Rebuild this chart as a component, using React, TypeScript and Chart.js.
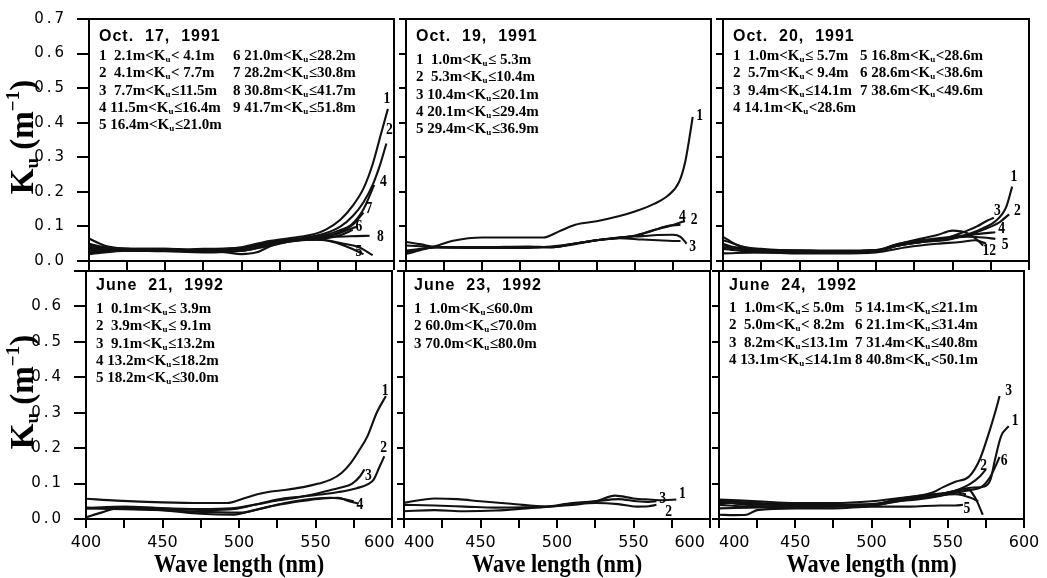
import React, { useEffect, useRef } from 'react';
import { Chart, registerables } from 'chart.js';

Chart.register(...registerables);

const PAGE_W = 1047;
const PAGE_H = 578;

// ---------- Oct. 17, 1991 ----------
const oct17Wl1 = [400, 410, 425, 450, 475, 500, 515, 530, 545, 555, 565, 573, 580, 586, 591, 596];
const oct17Ku1 = [0.05, 0.04, 0.035, 0.035, 0.033, 0.04, 0.055, 0.065, 0.075, 0.09, 0.12, 0.16, 0.21, 0.28, 0.36, 0.44];
const oct17Wl2 = [400, 410, 425, 450, 475, 500, 515, 530, 545, 555, 565, 573, 580, 586, 591, 595];
const oct17Ku2 = [0.045, 0.04, 0.035, 0.033, 0.03, 0.035, 0.05, 0.06, 0.07, 0.08, 0.1, 0.13, 0.17, 0.22, 0.28, 0.34];
const oct17Wl3 = [400, 425, 450, 475, 500, 515, 530, 545, 560, 570, 576];
const oct17Ku3 = [0.04, 0.033, 0.03, 0.032, 0.03, 0.045, 0.055, 0.065, 0.075, 0.09, 0.1];
const oct17Wl4 = [400, 425, 450, 475, 500, 515, 530, 545, 555, 565, 572, 580, 587];
const oct17Ku4 = [0.035, 0.03, 0.032, 0.03, 0.035, 0.05, 0.06, 0.065, 0.075, 0.09, 0.105, 0.15, 0.22];
const oct17Wl5 = [400, 410, 425, 450, 475, 490, 500, 510, 520, 535, 550, 560, 570, 580];
const oct17Ku5 = [0.065, 0.045, 0.035, 0.03, 0.03, 0.025, 0.02, 0.025, 0.045, 0.06, 0.062, 0.055, 0.04, 0.02];
const oct17Wl6 = [400, 425, 450, 475, 500, 520, 540, 555, 565, 573];
const oct17Ku6 = [0.03, 0.035, 0.035, 0.03, 0.03, 0.05, 0.06, 0.065, 0.075, 0.09];
const oct17Wl7 = [400, 425, 450, 475, 500, 520, 540, 555, 565, 573, 580];
const oct17Ku7 = [0.04, 0.03, 0.03, 0.035, 0.038, 0.055, 0.062, 0.07, 0.085, 0.105, 0.14];
const oct17Wl8 = [400, 425, 450, 475, 500, 520, 540, 560, 575, 584];
const oct17Ku8 = [0.025, 0.03, 0.03, 0.028, 0.035, 0.055, 0.065, 0.07, 0.072, 0.073];
const oct17Wl9 = [400, 425, 450, 475, 500, 520, 540, 555, 567, 577, 586];
const oct17Ku9 = [0.02, 0.03, 0.028, 0.025, 0.03, 0.045, 0.062, 0.06, 0.05, 0.04, 0.017];
const oct17Legend = [
  '1  2.1m<K_u< 4.1m', '2  4.1m<K_u< 7.7m', '3  7.7m<K_u≤11.5m', '4 11.5m<K_u≤16.4m', '5 16.4m<K_u≤21.0m',
  '6 21.0m<K_u≤28.2m', '7 28.2m<K_u≤30.8m', '8 30.8m<K_u≤41.7m', '9 41.7m<K_u≤51.8m',
];
const oct17LabelText = ['1', '2', '4', '7', '6', '8', '5'];
const oct17LabelWl = [595.4, 597, 593, 583.6, 577, 591, 577];
const oct17LabelKu = [0.469, 0.378, 0.229, 0.152, 0.099, 0.071, 0.025];

// ---------- Oct. 19, 1991 ----------
const oct19Wl1 = [400, 410, 417, 430, 450, 470, 490, 500, 511, 525, 540, 550, 563, 572, 579, 583, 586, 588];
const oct19Ku1 = [0.055, 0.048, 0.042, 0.058, 0.068, 0.068, 0.068, 0.085, 0.105, 0.115, 0.13, 0.143, 0.166, 0.19, 0.228, 0.285, 0.36, 0.417];
const oct19Wl2 = [400, 410, 420, 450, 480, 495, 510, 525, 540, 550, 563, 572, 583];
const oct19Ku2 = [0.03, 0.035, 0.04, 0.04, 0.04, 0.04, 0.05, 0.06, 0.067, 0.073, 0.09, 0.1, 0.116];
const oct19Wl3 = [400, 420, 450, 480, 495, 510, 525, 540, 555, 565, 575, 580, 584];
const oct19Ku3 = [0.02, 0.04, 0.04, 0.042, 0.04, 0.048, 0.06, 0.068, 0.072, 0.075, 0.076, 0.07, 0.05];
const oct19Wl4 = [400, 420, 450, 480, 495, 510, 525, 540, 550, 560, 570, 580];
const oct19Ku4 = [0.025, 0.04, 0.038, 0.038, 0.042, 0.05, 0.06, 0.068, 0.073, 0.085, 0.1, 0.105];
const oct19Wl5 = [400, 420, 450, 480, 495, 510, 525, 540, 555, 565, 575, 580];
const oct19Ku5 = [0.045, 0.04, 0.038, 0.04, 0.04, 0.05, 0.06, 0.066, 0.062, 0.06, 0.058, 0.058];
const oct19Legend = ['1  1.0m<K_u≤ 5.3m', '2  5.3m<K_u≤10.4m', '3 10.4m<K_u≤20.1m', '4 20.1m<K_u≤29.4m', '5 29.4m<K_u≤36.9m'];
const oct19LabelText = ['1', '4', '2', '3'];
const oct19LabelWl = [592.6, 581.2, 589, 588];
const oct19LabelKu = [0.42, 0.127, 0.12, 0.04];

// ---------- Oct. 20, 1991 ----------
const oct20Wl1 = [400, 410, 425, 450, 475, 500, 515, 530, 545, 555, 562, 570, 578, 585, 589];
const oct20Ku1 = [0.05, 0.035, 0.03, 0.028, 0.028, 0.03, 0.045, 0.055, 0.06, 0.07, 0.08, 0.095, 0.115, 0.155, 0.215];
const oct20Wl2 = [400, 425, 450, 475, 500, 515, 530, 545, 560, 570, 580, 587];
const oct20Ku2 = [0.04, 0.03, 0.03, 0.028, 0.03, 0.045, 0.055, 0.062, 0.075, 0.09, 0.11, 0.135];
const oct20Wl3 = [400, 425, 450, 475, 500, 515, 530, 545, 558, 566, 572, 577];
const oct20Ku3 = [0.035, 0.025, 0.025, 0.027, 0.03, 0.05, 0.06, 0.065, 0.085, 0.1, 0.115, 0.125];
const oct20Wl4 = [400, 410, 425, 450, 475, 500, 515, 530, 545, 560, 570, 578];
const oct20Ku4 = [0.07, 0.045, 0.035, 0.03, 0.03, 0.032, 0.05, 0.06, 0.068, 0.075, 0.08, 0.083];
const oct20Wl5 = [400, 425, 450, 475, 500, 515, 530, 545, 560, 570, 578];
const oct20Ku5 = [0.045, 0.03, 0.028, 0.028, 0.03, 0.045, 0.055, 0.065, 0.07, 0.068, 0.064];
const oct20Wl6 = [400, 425, 450, 475, 500, 520, 540, 550, 560, 565, 570];
const oct20Ku6 = [0.06, 0.03, 0.03, 0.028, 0.03, 0.055, 0.075, 0.088, 0.08, 0.065, 0.045];
const oct20Wl7 = [400, 425, 450, 475, 500, 520, 540, 555, 565, 572];
const oct20Ku7 = [0.022, 0.025, 0.022, 0.022, 0.025, 0.04, 0.05, 0.055, 0.06, 0.05];
const oct20Legend = [
  '1  1.0m<K_u≤ 5.7m', '2  5.7m<K_u< 9.4m', '3  9.4m<K_u≤14.1m', '4 14.1m<K_u<28.6m',
  '5 16.8m<K_u<28.6m', '6 28.6m<K_u<38.6m', '7 38.6m<K_u<49.6m',
];
const oct20LabelText = ['1', '3', '2', '4', '5', '12'];
const oct20LabelWl = [590.2, 579.4, 592.4, 582.2, 584.4, 574];
const oct20LabelKu = [0.243, 0.144, 0.144, 0.092, 0.047, 0.029];

// ---------- June 21, 1992 ----------
const jun21Wl1 = [400, 420, 450, 475, 492, 503, 512, 520, 530, 542, 552, 560, 567, 573, 578, 584, 590, 596];
const jun21Ku1 = [0.057, 0.052, 0.047, 0.045, 0.045, 0.058, 0.07, 0.077, 0.082, 0.09, 0.1, 0.111, 0.13, 0.158, 0.19, 0.234, 0.3, 0.347];
const jun21Wl2 = [400, 410, 420, 440, 460, 480, 497, 510, 525, 540, 555, 565, 577, 585, 588, 592, 595];
const jun21Ku2 = [0.005, 0.018, 0.03, 0.032, 0.028, 0.025, 0.028, 0.04, 0.055, 0.063, 0.07, 0.076, 0.087, 0.1, 0.111, 0.149, 0.177];
const jun21Wl3 = [400, 425, 450, 475, 495, 510, 525, 540, 551, 560, 568, 574, 579, 582];
const jun21Ku3 = [0.03, 0.035, 0.03, 0.028, 0.03, 0.04, 0.052, 0.062, 0.072, 0.082, 0.09, 0.1, 0.12, 0.14];
const jun21Wl4 = [400, 425, 450, 475, 500, 520, 540, 555, 565, 572, 578];
const jun21Ku4 = [0.03, 0.028, 0.025, 0.02, 0.018, 0.035, 0.05, 0.058, 0.06, 0.05, 0.044];
const jun21Wl5 = [400, 425, 450, 475, 495, 510, 530, 550, 560, 570, 575];
const jun21Ku5 = [0.032, 0.03, 0.025, 0.015, 0.012, 0.025, 0.045, 0.058, 0.06, 0.055, 0.05];
const jun21Legend = ['1  0.1m<K_u≤ 3.9m', '2  3.9m<K_u≤ 9.1m', '3  9.1m<K_u≤13.2m', '4 13.2m<K_u≤18.2m', '5 18.2m<K_u≤30.0m'];
const jun21LabelText = ['1', '2', '3', '4'];
const jun21LabelWl = [595.6, 594.5, 584.5, 579];
const jun21LabelKu = [0.362, 0.2, 0.122, 0.04];

// ---------- June 23, 1992 ----------
const jun23Wl1 = [400, 420, 435, 450, 470, 493, 510, 525, 538, 550, 560, 570, 578];
const jun23Ku1 = [0.046, 0.058, 0.056, 0.05, 0.043, 0.035, 0.043, 0.05, 0.066, 0.058, 0.055, 0.053, 0.055];
const jun23Wl2 = [400, 420, 440, 460, 480, 493, 510, 525, 540, 552, 560, 565];
const jun23Ku2 = [0.022, 0.025, 0.022, 0.024, 0.03, 0.034, 0.04, 0.045, 0.042, 0.035, 0.036, 0.04];
const jun23Wl3 = [400, 420, 440, 460, 480, 493, 510, 525, 540, 552, 560, 565];
const jun23Ku3 = [0.04, 0.038, 0.035, 0.032, 0.033, 0.035, 0.045, 0.05, 0.056, 0.05, 0.048, 0.05];
const jun23Legend = ['1  1.0m<K_u≤60.0m', '2 60.0m<K_u≤70.0m', '3 70.0m<K_u≤80.0m'];
const jun23LabelText = ['3', '1', '2'];
const jun23LabelWl = [569, 582, 573];
const jun23LabelKu = [0.056, 0.07, 0.021];

// ---------- June 24, 1992 ----------
const jun24Wl1 = [400, 420, 450, 475, 500, 515, 530, 545, 555, 565, 574, 578, 581, 585, 590];
const jun24Ku1 = [0.045, 0.045, 0.038, 0.038, 0.04, 0.05, 0.06, 0.07, 0.08, 0.088, 0.092, 0.111, 0.168, 0.234, 0.262];
const jun24Wl2 = [400, 420, 450, 475, 500, 515, 530, 545, 555, 565, 571, 575];
const jun24Ku2 = [0.05, 0.042, 0.04, 0.04, 0.038, 0.05, 0.06, 0.068, 0.08, 0.1, 0.12, 0.14];
const jun24Wl3 = [400, 420, 450, 475, 500, 515, 530, 540, 547, 555, 564, 571, 577, 581, 584];
const jun24Ku3 = [0.05, 0.04, 0.042, 0.04, 0.04, 0.055, 0.065, 0.075, 0.09, 0.105, 0.12, 0.168, 0.243, 0.3, 0.347];
const jun24Wl4 = [400, 420, 450, 475, 500, 515, 530, 545, 555, 563, 568, 573];
const jun24Ku4 = [0.03, 0.032, 0.035, 0.035, 0.038, 0.048, 0.06, 0.07, 0.08, 0.085, 0.06, 0.012];
const jun24Wl5 = [400, 410, 418, 425, 450, 475, 500, 525, 545, 555, 560];
const jun24Ku5 = [0.012, 0.011, 0.012, 0.025, 0.03, 0.03, 0.035, 0.035, 0.038, 0.038, 0.04];
const jun24Wl6 = [400, 420, 450, 475, 500, 515, 530, 545, 555, 565, 572, 578, 584];
const jun24Ku6 = [0.04, 0.035, 0.035, 0.036, 0.04, 0.05, 0.055, 0.065, 0.075, 0.082, 0.09, 0.12, 0.175];
const jun24Wl7 = [400, 425, 450, 475, 500, 520, 540, 555, 565, 570];
const jun24Ku7 = [0.052, 0.045, 0.04, 0.04, 0.042, 0.055, 0.065, 0.07, 0.06, 0.05];
const jun24Wl8 = [400, 425, 450, 475, 500, 520, 540, 555, 562];
const jun24Ku8 = [0.055, 0.05, 0.045, 0.045, 0.05, 0.06, 0.07, 0.075, 0.07];
const jun24Legend = [
  '1  1.0m<K_u≤ 5.0m', '2  5.0m<K_u< 8.2m', '3  8.2m<K_u≤13.1m', '4 13.1m<K_u≤14.1m',
  '5 14.1m<K_u≤21.1m', '6 21.1m<K_u≤31.4m', '7 31.4m<K_u≤40.8m', '8 40.8m<K_u<50.1m',
];
const jun24LabelText = ['3', '1', '2', '6', '5'];
const jun24LabelWl = [589.9, 594.2, 573.5, 587, 562.6];
const jun24LabelKu = [0.362, 0.276, 0.149, 0.163, 0.03];

// ---------- axes ----------
const WL_MIN = 400;
const WL_MAX = 600;
const WL_STEP = 25;
const KU_MIN = 0;
const KU_MAX = 0.7;
const KU_STEP = 0.1;
const Y_TITLE = 'K_u (m^-1)';
const X_TITLE = 'Wave length (nm)';

const Y_BOX_W = 70;
const X_BOX_H = 40;

type PanelDef = {
  title: string;
  legend: string[];
  split: number;
  curves: number[][][];
  labelText: string[];
  labelWl: number[];
  labelKu: number[];
  box: [number, number, number, number];
  row: number;
  col: number;
  legendDy: number;
  col2Dx: number;
  edgePad: [number, number];
};

const PANELS: PanelDef[] = [
  {
    title: 'Oct.  17,  1991', legend: oct17Legend, split: 5,
    curves: [[oct17Wl1, oct17Ku1], [oct17Wl2, oct17Ku2], [oct17Wl3, oct17Ku3], [oct17Wl4, oct17Ku4], [oct17Wl5, oct17Ku5],
      [oct17Wl6, oct17Ku6], [oct17Wl7, oct17Ku7], [oct17Wl8, oct17Ku8], [oct17Wl9, oct17Ku9]],
    labelText: oct17LabelText, labelWl: oct17LabelWl, labelKu: oct17LabelKu,
    box: [89, 13, 394, 261], row: 0, col: 0, legendDy: 36, col2Dx: 134, edgePad: [0, 0],
  },
  {
    title: 'Oct.  19,  1991', legend: oct19Legend, split: 5,
    curves: [[oct19Wl1, oct19Ku1], [oct19Wl2, oct19Ku2], [oct19Wl3, oct19Ku3], [oct19Wl4, oct19Ku4], [oct19Wl5, oct19Ku5]],
    labelText: oct19LabelText, labelWl: oct19LabelWl, labelKu: oct19LabelKu,
    box: [406, 13, 711, 261], row: 0, col: 1, legendDy: 40, col2Dx: 130, edgePad: [0, 0],
  },
  {
    title: 'Oct.  20,  1991', legend: oct20Legend, split: 4,
    curves: [[oct20Wl1, oct20Ku1], [oct20Wl2, oct20Ku2], [oct20Wl3, oct20Ku3], [oct20Wl4, oct20Ku4], [oct20Wl5, oct20Ku5],
      [oct20Wl6, oct20Ku6], [oct20Wl7, oct20Ku7]],
    labelText: oct20LabelText, labelWl: oct20LabelWl, labelKu: oct20LabelKu,
    box: [723, 13, 1029, 261], row: 0, col: 2, legendDy: 36, col2Dx: 127, edgePad: [0, 0],
  },
  {
    title: 'June  21,  1992', legend: jun21Legend, split: 5,
    curves: [[jun21Wl1, jun21Ku1], [jun21Wl2, jun21Ku2], [jun21Wl3, jun21Ku3], [jun21Wl4, jun21Ku4], [jun21Wl5, jun21Ku5]],
    labelText: jun21LabelText, labelWl: jun21LabelWl, labelKu: jun21LabelKu,
    box: [86, 271, 392, 519], row: 1, col: 0, legendDy: 37, col2Dx: 130, edgePad: [0, 5],
  },
  {
    title: 'June  23,  1992', legend: jun23Legend, split: 3,
    curves: [[jun23Wl1, jun23Ku1], [jun23Wl2, jun23Ku2], [jun23Wl3, jun23Ku3]],
    labelText: jun23LabelText, labelWl: jun23LabelWl, labelKu: jun23LabelKu,
    box: [404, 271, 710, 519], row: 1, col: 1, legendDy: 37, col2Dx: 130, edgePad: [6, 8],
  },
  {
    title: 'June  24,  1992', legend: jun24Legend, split: 4,
    curves: [[jun24Wl1, jun24Ku1], [jun24Wl2, jun24Ku2], [jun24Wl3, jun24Ku3], [jun24Wl4, jun24Ku4], [jun24Wl5, jun24Ku5],
      [jun24Wl6, jun24Ku6], [jun24Wl7, jun24Ku7], [jun24Wl8, jun24Ku8]],
    labelText: jun24LabelText, labelWl: jun24LabelWl, labelKu: jun24LabelKu,
    box: [719, 271, 1024, 519], row: 1, col: 2, legendDy: 36, col2Dx: 126, edgePad: [6, 0],
  },
];

const SERIF = '"Liberation Serif", "Times New Roman", serif';
const LEG_FONT = `bold 15px ${SERIF}`;
const LEG_SUB = `bold 9px ${SERIF}`;

function drawLegendLine(ctx: CanvasRenderingContext2D, text: string, x: number, yMid: number) {
  const parts = text.split('K_u');
  let cx = x;
  const base = yMid + 5;
  ctx.textAlign = 'left';
  ctx.textBaseline = 'alphabetic';
  parts.forEach((p, i) => {
    ctx.font = LEG_FONT;
    ctx.fillText(p, cx, base);
    cx += ctx.measureText(p).width;
    if (i < parts.length - 1) {
      ctx.fillText('K', cx, base);
      cx += ctx.measureText('K').width;
      ctx.font = LEG_SUB;
      ctx.fillText('u', cx, base + 2);
      cx += ctx.measureText('u').width + 0.5;
    }
  });
}

function drawYTitle(ctx: CanvasRenderingContext2D, bx: number, cy: number) {
  const big = `bold 33px ${SERIF}`;
  const small = `bold 19px ${SERIF}`;
  const [k, rest] = Y_TITLE.split('_');
  const sub = rest.charAt(0);
  const inner = rest.slice(1).split('^');
  const segs = [
    { t: k, f: big, dy: 0 },
    { t: sub, f: small, dy: 5 },
    { t: inner[0], f: big, dy: 0 },
    { t: inner[1].replace(')', '').replace('-', '\u2212'), f: small, dy: -14 },
    { t: ')', f: big, dy: 0 },
  ];
  ctx.save();
  let total = 0;
  const widths = segs.map((s) => {
    ctx.font = s.f;
    const w = ctx.measureText(s.t).width;
    total += w;
    return w;
  });
  ctx.translate(bx, cy);
  ctx.rotate(-Math.PI / 2);
  ctx.textAlign = 'left';
  ctx.textBaseline = 'alphabetic';
  let x = -total / 2;
  segs.forEach((s, i) => {
    ctx.font = s.f;
    ctx.fillText(s.t, x, s.dy);
    x += widths[i];
  });
  ctx.restore();
}

function makeDeco(panel: PanelDef) {
  return {
    id: 'deco',
    afterDatasetsDraw(chart: any) {
      // y tick labels (ticks.z = 1) are drawn after this hook: give them the wide spacing of the original
      (chart.ctx as any).letterSpacing = '3px';
    },
    afterDraw(chart: any) {
      const ctx: CanvasRenderingContext2D = chart.ctx;
      const a = chart.chartArea;
      ctx.save();
      (ctx as any).letterSpacing = '0px';
      ctx.strokeStyle = '#000';
      ctx.lineWidth = 2;
      ctx.strokeRect(a.left, a.top, a.right - a.left, a.bottom - a.top);
      ctx.fillStyle = '#000';
      // title
      ctx.font = 'bold 16px "Liberation Sans", Arial, sans-serif';
      (ctx as any).letterSpacing = '1px';
      ctx.textAlign = 'left';
      ctx.textBaseline = 'middle';
      ctx.fillText(panel.title, a.left + 10, a.top + (panel.row === 0 ? 18 : 15));
      (ctx as any).letterSpacing = '0px';
      // legend
      panel.legend.forEach((line, i) => {
        const c2 = i >= panel.split;
        const r = c2 ? i - panel.split : i;
        drawLegendLine(ctx, line, a.left + 10 + (c2 ? panel.col2Dx : 0), a.top + panel.legendDy + r * 17.3);
      });
      // curve labels
      const xs = chart.scales.x;
      const ys = chart.scales.y;
      ctx.textAlign = 'center';
      ctx.textBaseline = 'middle';
      panel.labelText.forEach((t, i) => {
        const px = xs.getPixelForValue(panel.labelWl[i]);
        const py = ys.getPixelForValue(panel.labelKu[i]);
        ctx.save();
        ctx.translate(px, py);
        ctx.scale(0.85, 1);
        ctx.font = `bold 16px ${SERIF}`;
        ctx.fillText(t, 0, 0);
        ctx.restore();
      });
      // axis titles
      if (panel.col === 0) {
        drawYTitle(ctx, 33, (a.top + a.bottom) / 2 - 3);
      }
      if (panel.row === 1) {
        ctx.save();
        ctx.translate((a.left + a.right) / 2, a.bottom + 53);
        ctx.scale(0.86, 1);
        ctx.font = `bold 26px ${SERIF}`;
        ctx.textAlign = 'center';
        ctx.textBaseline = 'alphabetic';
        ctx.fillText(X_TITLE, 0, 0);
        ctx.restore();
      }
      ctx.restore();
      (ctx as any).letterSpacing = '0px';
    },
  };
}

function PanelChart({ panel }: { panel: PanelDef }) {
  const ref = useRef<HTMLCanvasElement>(null);
  useEffect(() => {
    const canvas = ref.current;
    if (!canvas) return;
    const [l, t, r, b] = panel.box;
    const chart = new Chart(canvas, {
      type: 'line',
      data: {
        datasets: panel.curves.map(([wl, ku], i) => ({
          label: String(i + 1),
          data: wl.map((x, j) => ({ x, y: ku[j] })),
          borderColor: '#111',
          borderWidth: 2.1,
          pointRadius: 0,
          fill: false,
          cubicInterpolationMode: 'monotone' as const,
        })),
      },
      options: {
        responsive: false,
        animation: false,
        devicePixelRatio: 1,
        events: [],
        layout: { padding: { left: l - Y_BOX_W, top: t, right: PAGE_W - r, bottom: PAGE_H - b - X_BOX_H } },
        plugins: { legend: { display: false }, tooltip: { enabled: false }, title: { display: false } },
        scales: {
          x: {
            type: 'linear',
            position: 'bottom',
            min: WL_MIN,
            max: WL_MAX,
            afterFit: (s: any) => { s.height = X_BOX_H; },
            border: { display: false },
            grid: { drawOnChartArea: false, drawTicks: true, tickLength: 9, color: '#000', lineWidth: 2 },
            ticks: {
              stepSize: WL_STEP,
              autoSkip: false,
              maxRotation: 0,
              minRotation: 0,
              padding: 5,
              color: '#000',
              font: { family: '"DejaVu Sans", sans-serif', size: 16 },
              callback: (v: any) => {
                const n = Number(v);
                if (panel.row !== 1 || n % 50 !== 0) return '';
                const s = String(n);
                if (n === WL_MIN && panel.edgePad[0]) return ' '.repeat(panel.edgePad[0]) + s;
                if (n === WL_MAX && panel.edgePad[1]) return s + ' '.repeat(panel.edgePad[1]);
                return s;
              },
            },
          },
          y: {
            type: 'linear',
            position: 'left',
            min: KU_MIN,
            max: KU_MAX,
            afterFit: (s: any) => { s.width = Y_BOX_W; },
            border: { display: false },
            grid: { z: -1, drawOnChartArea: false, drawTicks: true, tickLength: panel.col === 0 ? 12 : 7, color: '#000', lineWidth: 2 },
            ticks: {
              z: 1,
              stepSize: KU_STEP,
              autoSkip: false,
              padding: 10,
              color: '#000',
              font: { family: '"DejaVu Sans", sans-serif', size: 15 },
              callback: (v: any) => {
                const n = Number(v);
                if (panel.col !== 0) return '';
                if (panel.row === 1 && n > 0.65) return '';
                return n.toFixed(1);
              },
            },
          },
        },
      },
      plugins: [makeDeco(panel)],
    } as any);
    return () => chart.destroy();
  }, [panel]);
  return (
    <canvas
      ref={ref}
      width={PAGE_W}
      height={PAGE_H}
      style={{ position: 'absolute', left: 0, top: 0, width: PAGE_W, height: PAGE_H }}
    />
  );
}

export default function App() {
  return (
    <div style={{ position: 'absolute', left: 0, top: 0, width: PAGE_W, height: PAGE_H, background: '#fff', overflow: 'hidden' }}>
      {PANELS.map((p, i) => (
        <PanelChart key={i} panel={p} />
      ))}
    </div>
  );
}
